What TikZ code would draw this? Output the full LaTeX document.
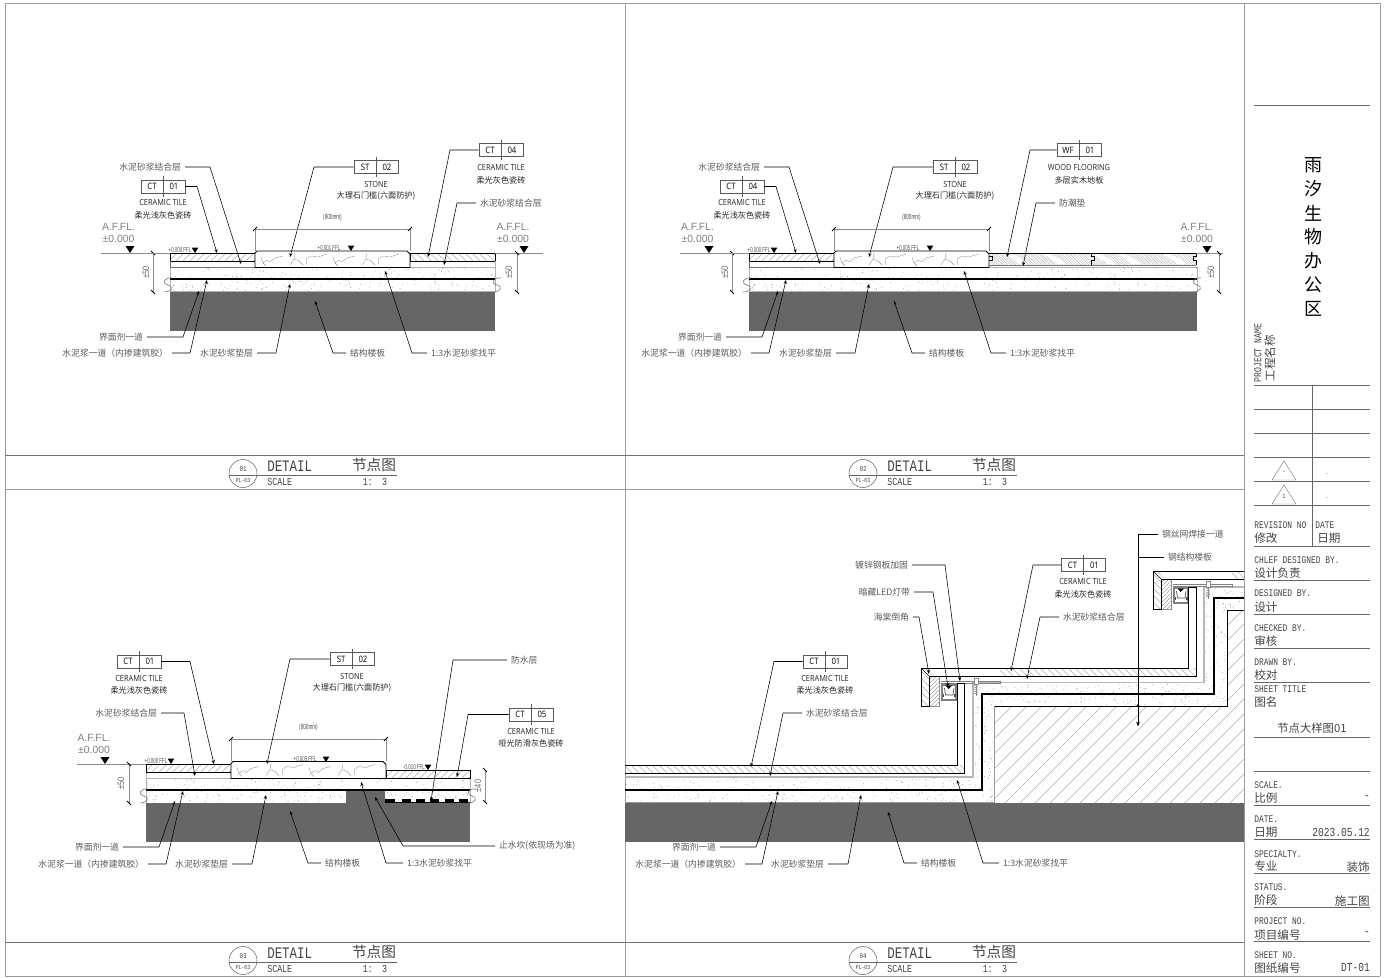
\documentclass[tikz,border=0pt]{standalone}
\usepackage{fontspec}
\usetikzlibrary{arrows.meta}
\setmainfont{Liberation Sans}
\newfontfamily\cjk{Noto Sans CJK SC}
\newfontfamily\romf[FakeStretch=0.78]{Liberation Mono}
\newfontfamily\thinf[FakeStretch=0.62]{Liberation Sans}
\newfontfamily\dimf[FakeStretch=0.8]{Liberation Sans}
\newfontfamily\tagf[FakeStretch=0.88]{Open Sans}
\definecolor{slab}{HTML}{666666}
\definecolor{framec}{HTML}{9A9A9A}
\definecolor{labc}{HTML}{5A5A5A}
\definecolor{hatchc}{HTML}{B0B0B0}
\definecolor{blockc}{HTML}{444444}
\tikzset{
  leader/.style={draw=black,line width=0.42pt,-{Stealth[length=3pt,width=2.4pt]}},
  labelnode/.style={font=\cjk\fontsize{6.6}{7}\selectfont,text=labc,inner sep=0pt,outer sep=0pt},
  notenode/.style={font=\cjk\fontsize{6.1}{7}\selectfont,text=black!85,inner sep=0pt},
  capnode/.style={font=\tagf\fontsize{6.3}{7}\selectfont,text=black!85,inner sep=0pt},
  tagbox/.style={draw=black!65,line width=0.45pt,minimum width=33pt,minimum height=10pt,inner sep=0pt,fill=white},
  tagtext/.style={font=\tagf\fontsize{6.6}{7}\selectfont,text=black,inner sep=0pt},
  gridline/.style={draw=framec,line width=0.75pt},
  heavy/.style={draw=black,line width=1pt},
  outl/.style={draw=black,line width=0.62pt},
  dimline/.style={draw=black!45,line width=0.4pt},
  tick/.style={draw=black,line width=0.7pt},
  levelc/.style={font=\fontsize{7.8}{9}\selectfont,text=black!50,inner sep=0pt},
  fflc/.style={font=\thinf\fontsize{5.3}{6}\selectfont,text=black!70,inner sep=0pt},
  dimt/.style={font=\dimf\fontsize{7}{8}\selectfont,text=black!60,inner sep=0pt},
  blockline/.style={draw=black!60,line width=0.5pt},
  enL/.style={font=\romf\fontsize{7.6}{8}\selectfont,text=blockc,inner sep=0pt,anchor=west},
  cnL/.style={font=\cjk\fontsize{8.7}{9}\selectfont,text=blockc,inner sep=0pt,anchor=west},
  cnR/.style={font=\cjk\fontsize{8.7}{9}\selectfont,text=blockc,inner sep=0pt,anchor=east},
  enR/.style={font=\romf\fontsize{9.2}{10}\selectfont,text=blockc,inner sep=0pt,anchor=east},
}
\newcommand\callE[7]{% name, x, y, text, knee x, tip x, tip y
  \node[labelnode,anchor=east] (#1) at (#2,#3) {#4};
  \coordinate (#1-tip) at (#6,#7);
  \coordinate (#1-knee) at (#5,#3);
  \coordinate (#1-st) at ([xshift=3pt]#1.east);
  \draw[leader] (#1-st) -- (#1-knee) -- (#1-tip);}
\newcommand\callW[7]{%
  \node[labelnode,anchor=west] (#1) at (#2,#3) {#4};
  \coordinate (#1-tip) at (#6,#7);
  \coordinate (#1-knee) at (#5,#3);
  \coordinate (#1-st) at ([xshift=-3pt]#1.west);
  \draw[leader] (#1-st) -- (#1-knee) -- (#1-tip);}
\newcommand\mattag[9]{%
  \node[tagbox] (#1) at (#2,#3) {};
  \draw[draw=black!65,line width=0.45pt] ([yshift=2.4pt]#1.north) -- ([yshift=-2.4pt]#1.south);
  \node[tagtext] (#1-a) at ([xshift=-8.2pt]#1.center) {#4};
  \node[tagtext] (#1-b) at ([xshift=8.2pt]#1.center) {#5};
  \coordinate (#1-tip) at (#8,#9);
  \coordinate (#1-knee) at (#7,#3);
  \draw[leader] (#1.#6) -- (#1-knee) -- (#1-tip);}
\newcommand\hatchR[7]{% clip rectangle x1 y1 x2 y2, spacing, colour, direction(1 for / , -1 for \)
  \begin{scope}
    \clip (#1,#2) rectangle (#3,#4);
    \pgfmathsetmacro\hh{#4-#2}
    \pgfmathsetmacro\xa{#1-\hh-#5}
    \pgfmathsetmacro\xb{\xa+#5}
    \pgfmathsetmacro\xc{#3+\hh}
    \foreach \d in {\xa,\xb,...,\xc}{
      \ifnum#7=1
        \draw[#6,line width=0.3pt] (\d,#4) -- ({\d+\hh},#2);
      \else
        \draw[#6,line width=0.3pt] (\d,#2) -- ({\d+\hh},#4);
      \fi}
  \end{scope}}
\newcommand\speck[6]{% x1 y1 x2 y2 count seed
  \pgfmathsetseed{#6}
  \foreach \i in {1,...,#5}{
    \pgfmathsetmacro\xx{#1+rnd*(#3-#1)}
    \pgfmathsetmacro\yy{#2+rnd*(#4-#2)}
    \fill[black!55] (\xx,\yy) circle (0.26pt);}}
\newcommand\cracks[2]{%
  \begin{scope}[shift={(#1,#2)}]
    \draw[black!40,line width=0.3pt] (0,6) -- (2,12) -- (6,9) -- (9,11) -- (14,7) -- (22,5);
    \draw[black!40,line width=0.3pt] (2,12) -- (5,15);
    \draw[black!40,line width=0.3pt] (34,2) -- (33,8) -- (29,14);
    \draw[black!40,line width=0.3pt] (33,8) -- (38,10) -- (42,14);
    \draw[black!40,line width=0.3pt] (46,14) -- (45,8) -- (50,5) -- (57,6) -- (66,3);
  \end{scope}}
\newcommand\aff[4]{%
  \node[levelc,anchor=center] (#1a) at (#2,{#3-26}) {A.F.FL.};
  \node[levelc,anchor=center] (#1b) at (#2,{#3-14}) {±0.000};
  \fill[black] (#4,#3) -- ({#4-4.5},{#3-7}) -- ({#4+4.5},{#3-7}) -- cycle;}
\newcommand\ffl[5]{%
  \node[fflc] (#1) at (#2,#3) {#4};
  \fill[black] (#5,{#3+3}) -- ({#5-3.3},{#3-2.4}) -- ({#5+3.3},{#3-2.4}) -- cycle;}
\newcommand\vdim[6]{%
  \draw[dimline] (#2,#3) -- (#2,#4);
  \draw[tick] ({#2-2},{#3-2}) -- ({#2+2},{#3+2});
  \draw[tick] ({#2-2},{#4-2}) -- ({#2+2},{#4+2});
  \node[dimt,rotate=90] (#1) at (#6,{(#3+#4)/2}) {#5};}
\newcommand\topdim[5]{%
  \draw[dimline] (#2,#4) -- (#3,#4);
  \draw[dimline] (#2,#4) -- (#2,{#4+22});
  \draw[dimline] (#3,#4) -- (#3,{#4+22});
  \draw[tick] ({#2-2},{#4+2}) -- ({#2+2},{#4-2});
  \draw[tick] ({#3-2},{#4+2}) -- ({#3+2},{#4-2});
  \node[font=\thinf\fontsize{5.6}{6}\selectfont,text=black!70,inner sep=0pt] (#1) at ({(#2+#3)/2},{#4-11}) {#5};}
\newcommand\stone[5]{%
  \fill[white] (#1,#4) -- (#1,{#3+2}) -- ({#1+2},#3) -- ({#2-3},#3) -- (#2,{#3+3}) -- (#2,#4) -- cycle;
  \cracks{#1+6}{#3}
  \cracks{#1+78}{#3}
  \draw[outl] (#1,#4) -- (#1,{#3+2}) -- ({#1+2},#3) -- ({#2-3},#3) -- (#2,{#3+3}) -- (#2,#4) -- cycle;}
\newcommand\brk[2]{%
  \draw[black!55,line width=0.45pt] ({#1+4},{#2-7}) .. controls ({#1-3},{#2-8}) and ({#1-7},{#2-2}) .. (#1,{#2}) .. controls ({#1+6},{#2+1}) and ({#1+4},{#2+7}) .. ({#1-4},{#2+7});}
\newcommand\titlebar[4]{%
\begin{scope}[shift={(#2,#3)}]
  \node[draw=black!60,circle,line width=0.4pt,minimum size=21pt,inner sep=0pt] (#1c) at (243,473.5) {};
  \draw[black!60,line width=0.45pt] (229,475) -- (397,475);
  \node[font=\romf\fontsize{5.6}{6}\selectfont,text=blockc,inner sep=0pt] (#1n) at (243,469) {#4};
  \node[font=\romf\fontsize{4.6}{6}\selectfont,text=blockc,inner sep=0pt] (#1s) at (243,480.5) {PL-03};
  \node[font=\romf\fontsize{12}{13}\selectfont,text=blockc,inner sep=0pt,anchor=west] (#1d) at (267,466) {DETAIL};
  \node[font=\cjk\fontsize{11}{12}\selectfont,text=blockc,inner sep=0pt] (#1t) at (374,465) {节点图};
  \node[font=\romf\fontsize{8}{9}\selectfont,text=blockc,inner sep=0pt,anchor=west] (#1e) at (267,482) {SCALE};
  \node[font=\romf\fontsize{8}{9}\selectfont,text=blockc,inner sep=0pt] (#1r) at (375,482) {1{\cjk\fontsize{7}{8}\selectfont：} 3};
\end{scope}}
\newcommand\basefloor[2]{%
  \fill[slab] (#1,292) rectangle (#2,331);
  \speck{#1}{267.5}{#2}{278}{110}{17}
  \speck{#1}{280.5}{#2}{291}{120}{23}
  \draw[black!30,line width=0.4pt] (#1,267) -- (#2,267);
  \draw[black!30,line width=0.4pt] (#1,267) -- (#1,292);
  \draw[black!30,line width=0.4pt] (#2,267) -- (#2,292);
  \draw[black!30,line width=0.4pt] (#1,291.5) -- (#2,291.5);
  \draw[heavy] (#1,279) -- (#2,279);}
\newcommand\tilebox[4]{%
  \hatchR{#1}{#3}{#2}{#3+8}{7}{hatchc}{#4}
  \draw[outl] (#1,#3) rectangle (#2,{#3+8});}
\newcommand\commonleft[2]{%
  \callE{#1bond}{181}{167}{水泥砂浆结合层}{210}{241}{264}
  \callE{#1iface}{143}{337}{界面剂一道}{183}{199}{291}
  \callE{#1slur}{168}{353}{水泥浆一道（内掺建筑胶）}{190}{207}{280}
  \callE{#1pad}{253}{353}{水泥砂浆垫层}{276}{290}{284}
  \callW{#1str}{350}{353}{结构楼板}{333}{315}{301}
  \callW{#1lev}{431}{353}{1:3水泥砂浆找平}{412}{385}{271}
  \mattag{#1ct}{163}{186.5}{CT}{#2}{east}{197}{217}{253}
  \node[capnode] (#1ctc) at (163,202) {CERAMIC TILE};
  \node[notenode] (#1ctn) at (163,215) {柔光浅灰色瓷砖};
  \mattag{#1st}{376}{167}{ST}{02}{west}{314}{290}{257}
  \node[capnode] (#1stc) at (376,184) {STONE};
  \node[notenode] (#1stn) at (376,196) {大理石门槛(六面防护)};
  \topdim{#1dim}{255}{410}{229}{(800mm)}
  \vdim{#1h}{153}{253}{292}{±50}{146}
  \brk{168}{285}
  \draw[dimline] (101,253) -- (170,253);
}
\newcommand\noseset{%
  \fill[white] (921,668) -- (921,706) -- (939,706) -- (939,676) -- (1000,676) -- (1000,668) -- cycle;
  \hatchR{929}{676}{939}{706}{4}{black!35}{1}
  \draw[black!45,line width=0.5pt] (929,676) rectangle (939,706);
  \hatchR{921}{668}{929}{706}{7}{hatchc}{-1}
  \draw[black!50,line width=0.35pt] (941,681.5) -- (1000,681.5) -- (1000,683.5) -- (941,683.5);
  \draw[black!50,line width=0.8pt,fill=white] (942,685) rectangle (956,700);
  \draw[black!70,line width=0.5pt] (944.5,688) -- (945.5,695) -- (953,695) -- (954,688);
  \fill[black] (945.5,685.5) -- (952,685.5) -- (948.7,689) -- cycle;
  \fill[black!70] (942.5,693.5) rectangle (944,696.5);
  \fill[black!70] (954,693.5) rectangle (955.5,696.5);
  \draw[black!45,line width=0.35pt,fill=white] (974,678) rectangle (978,684);
  \foreach \yy in {685,687,...,693}{\draw[black!45,line width=0.45pt] (974,\yy) -- (978,{\yy+1});}
  \draw[black!45,line width=0.45pt] (976,684) -- (976,696);
  \draw[black,line width=0.5pt] (921,668) -- (929,676);
}
\begin{document}
\begin{tikzpicture}[x=0.75pt,y=-0.75pt]
\useasboundingbox (0,0) rectangle (1389,978);
\fill[white] (0,0) rectangle (1389,978);
% frames
\draw[gridline] (5,976) -- (5,3) -- (1380,3) -- (1380,976);
\draw[gridline] (5,976) -- (1380,976);
\draw[gridline] (625,3) -- (625,976);
\draw[gridline] (1244,3) -- (1244,976);
\draw[gridline] (5,489.5) -- (1244,489.5);
\draw[black!55,line width=0.5pt] (5,455.5) -- (1244,455.5);
\draw[black!55,line width=0.5pt] (5,942.5) -- (1244,942.5);
\titlebar{ta}{0}{0}{01}
\titlebar{tb}{620}{0}{02}
\titlebar{tc}{0}{487}{03}
\titlebar{td}{620}{487}{04}

%% ---------- detail 1
\basefloor{170}{495}
\hatchR{170}{253}{255}{261}{7}{hatchc}{1}
\draw[outl] (170.5,253) rectangle (255,261);
\draw[black!55,line width=0.4pt] (170.5,261) -- (170.5,267) -- (255,267);
\tilebox{410}{495}{253}{-1}
\draw[black!30,line width=0.4pt] (495,261) -- (495,267) -- (410,267);
\stone{255}{410}{251}{267.5}{1}
\brk{497}{285}
\commonleft{a}{01}
\ffl{affl}{180}{250}{+0.000 FFL}{195}
\ffl{afflb}{329}{248}{+0.001 FFL}{351}
\aff{aL}{118.5}{253}{130}
\aff{aR}{513}{253}{524}
\draw[dimline] (495,253) -- (543,253);
\vdim{ahr}{517}{253}{292}{±50}{509}
\mattag{act4}{501}{150}{CT}{04}{west}{450}{428}{257}
\node[capnode] (act4c) at (501,167) {CERAMIC TILE};
\node[notenode] (act4n) at (501,180) {柔光灰色瓷砖};
\callW{abr}{480}{203}{水泥砂浆结合层}{457}{444}{265}

%% ---------- detail 2
\begin{scope}[shift={(579,0)}]
\basefloor{170}{618}
\hatchR{170}{253}{255}{261}{7}{hatchc}{1}
\draw[outl] (170.5,253) rectangle (255,261);
\draw[black!55,line width=0.4pt] (170.5,261) -- (170.5,267) -- (255,267);
% wood floor
\fill[white] (410,253) rectangle (618,265);
\hatchR{411}{253}{617}{265}{2.6}{black!28}{-1}
\foreach \cx in {432,470,520,545,590}{
  \fill[white] (\cx,254) .. controls ({\cx+6},257) and ({\cx+12},258) .. ({\cx+16},264) -- ({\cx+8},264) .. controls ({\cx+4},260) and ({\cx},258) .. ({\cx-6},254) -- cycle;}
\draw[black,line width=0.55pt] (410,253) -- (617,253);
\draw[black!55,line width=0.5pt] (410,265) -- (617,265);
\draw[black,line width=0.45pt] (617,253) -- (617,256) -- (614,256) -- (614,260) -- (617,260) -- (617,265);
\draw[black,line width=0.45pt] (512,253) -- (512,256) -- (515,256) -- (515,260) -- (512,260) -- (512,265);
\draw[black,line width=0.45pt] (410,256) -- (413,256) -- (413,260) -- (410,260);
\stone{255}{410}{251}{267.5}{1}
\brk{618}{285}
\commonleft{b}{04}
\ffl{bffl}{180}{250}{+0.000 FFL}{195}
\ffl{bfflb}{329}{248}{+0.005 FFL}{351}
\aff{bL}{118.5}{253}{130}
\aff{bR}{618}{253}{628}
\draw[dimline] (617,253) -- (644,253);
\vdim{bhr}{640}{253}{292}{±50}{632}
\mattag{bwf}{500}{150}{WF}{01}{west}{451}{428}{257}
\node[capnode] (bwfc) at (500,167) {WOOD FLOORING};
\node[notenode] (bwfn) at (500,180) {多层实木地板};
\callW{bbr}{480}{203}{防潮垫}{457}{444}{266}
\end{scope}

%% ---------- detail 3
\fill[slab] (146,803) rectangle (470,842);
\speck{146}{778.5}{470}{789}{110}{31}
\speck{146}{791.5}{346}{802}{75}{37}
\speck{385}{791.5}{470}{798}{30}{41}
\fill[slab] (346,791) rectangle (385,803);
\foreach \bx/\bw in {385/10,402/9,416/9,430/9,445/9,459/9}{\fill[black] (\bx,799) rectangle ({\bx+\bw},802.5);}
\draw[black,line width=0.4pt] (385,802.5) -- (470,802.5);
\draw[black!30,line width=0.4pt] (146,772) -- (146,803);
\draw[black!30,line width=0.4pt] (470,778) -- (470,803);
\draw[heavy] (146,790) -- (470,790);
\hatchR{146}{764}{231}{772}{7}{hatchc}{1}
\draw[outl] (146.5,764) rectangle (231,772);
\hatchR{386}{770}{470}{778}{7}{hatchc}{1}
\draw[outl] (386,770) rectangle (470,778);
\draw[black!30,line width=0.4pt] (146,778) -- (386,778);
\stone{231}{386}{761.5}{778.5}{1}
\brk{144}{796}
\brk{472}{796}
\draw[dimline] (77,764) -- (146,764);
\aff{cL}{94}{764}{105}
\ffl{cffl}{156}{761}{+0.000 FFL}{171}
\ffl{cfflb}{305}{759}{+0.005 FFL}{326}
\ffl{cfflc}{414}{767}{-0.010 FFL}{428}
\topdim{cdim}{231}{386}{739}{(800mm)}
\vdim{chl}{129}{764}{803}{±50}{121}
\vdim{chr}{485}{770}{802}{±40}{478}
\mattag{cct}{139}{661.5}{CT}{01}{east}{190}{214}{764}
\node[capnode] (cctc) at (139,678) {CERAMIC TILE};
\node[notenode] (cctn) at (139,690) {柔光浅灰色瓷砖};
\callE{cbond}{157}{713}{水泥砂浆结合层}{184}{195}{776}
\mattag{cst}{352}{659}{ST}{02}{west}{290}{267}{764}
\node[capnode] (cstc) at (352,676) {STONE};
\node[notenode] (cstn) at (352,688) {大理石门槛(六面防护)};
\callW{cwp}{511}{660}{防水层}{453}{431}{801}
\mattag{cct5}{531}{714.5}{CT}{05}{west}{468}{457}{777}
\node[capnode] (cct5c) at (531,731) {CERAMIC TILE};
\node[notenode] (cct5n) at (531,743) {哑光防滑灰色瓷砖};
\callW{ckerb}{499}{846}{止水坎(依现场为准)}{403}{375}{797}
\callW{clev}{407}{863}{1:3水泥砂浆找平}{386}{361}{782}
\callW{cstr}{325}{863}{结构楼板}{308}{290}{811}
\callE{cpad}{228}{864}{水泥砂浆垫层}{252}{266}{795}
\callE{cslur}{144}{864}{水泥浆一道（内掺建筑胶）}{166}{183}{791}
\callE{ciface}{119}{847}{界面剂一道}{159}{175}{801}

%% ---------- detail 4
\fill[slab] (625,803) rectangle (1244,842);
\begin{scope}
  \clip (995,706) -- (1227,706) -- (1227,610) -- (1244,610) -- (1244,803) -- (995,803) -- cycle;
  \foreach \d in {900,915,...,1380}{\draw[hatchc,line width=0.35pt] (\d,803) -- ({\d+200},603);}
\end{scope}
\speck{625}{778}{972}{789}{110}{51}
\speck{625}{791}{993}{802}{120}{57}
\speck{974}{683}{981}{790}{25}{61}
\speck{983}{696}{993}{802}{45}{67}
\speck{974}{684}{1214}{693}{80}{71}
\speck{983}{695}{1226}{705}{90}{73}
\speck{1205}{590}{1213}{694}{22}{79}
\speck{1215}{600}{1226}{706}{38}{83}
\speck{1205}{588}{1244}{597}{18}{89}
\speck{1215}{599}{1244}{609}{16}{97}
\draw[black!28,line width=0.9pt] (625,777) -- (973,777) -- (973,682.5) -- (1204,682.5) -- (1204,587) -- (1244,587);
\draw[black!40,line width=1pt] (625,802.5) -- (994.5,802.5) -- (994.5,706);
\draw[heavy] (625,790) -- (982,790) -- (982,694) -- (1214,694) -- (1214,598) -- (1244,598);
\draw[outl] (994.5,706) -- (1227,706) -- (1227,610) -- (1244,610);
% tile runs
\hatchR{625}{765}{964}{773}{7}{hatchc}{-1}
\hatchR{929}{668}{1196}{676}{7}{hatchc}{-1}
\hatchR{1161}{571}{1244}{579}{7}{hatchc}{-1}
\noseset
\begin{scope}[shift={(232,-97)}]\noseset\end{scope}
\draw[outl] (625,765) -- (957,765) -- (957,683) -- (964,683) -- (964,773) -- (625,773);
\draw[outl] (929,676) -- (929,706) -- (921,706) -- (921,668) -- (1188,668) -- (1188,587) -- (1196,587) -- (1196,676) -- cycle;
\draw[outl] (1244,571) -- (1153,571) -- (1153,609) -- (1161,609) -- (1161,579) -- (1244,579);
% labels
\callW{dmesh}{1162}{534}{钢丝网焊接一道}{1138}{1138}{726}
\callW{dsteel}{1168}{557}{钢结构楼板}{1138}{1138}{726}
\fill[black] (1138,705.5) circle (1pt);
\callE{dgal}{908}{565}{镀锌钢板加固}{945}{960}{681}
\callE{dled}{910}{592}{暗藏LED灯带}{933}{948}{687}
\callE{dcham}{909}{617}{海棠倒角}{919}{929}{674}
\mattag{dct}{1083.5}{565}{CT}{01}{west}{1033}{1011}{671}
\node[capnode] (dctc) at (1083,581) {CERAMIC TILE};
\node[notenode] (dctn) at (1083,594) {柔光浅灰色瓷砖};
\callW{dbr}{1063}{617}{水泥砂浆结合层}{1040}{1027}{679}
\mattag{dcl}{825}{661.5}{CT}{01}{west}{774}{751}{767}
\node[capnode] (dclc) at (825,678) {CERAMIC TILE};
\node[notenode] (dcln) at (825,690) {柔光浅灰色瓷砖};
\callW{dbl}{806}{713}{水泥砂浆结合层}{783}{770}{776}
\callE{difc}{716}{847}{界面剂一道}{756}{772}{801}
\callE{dslur}{741}{864}{水泥浆一道（内掺建筑胶）}{762}{778}{791}
\callE{dpad}{824}{864}{水泥砂浆垫层}{848}{861}{795}
\callW{dstr}{921}{863}{结构楼板}{904}{888}{812}
\callW{dlev}{1003}{863}{1:3水泥砂浆找平}{983}{957}{780}

%% ---------- title block
\draw[blockline] (1254,105.5) -- (1370,105.5);
\foreach \ch [count=\n from 0] in {雨,汐,生,物,办,公,区}{
  \node[font=\cjk\fontsize{13.5}{14}\selectfont,text=black,inner sep=0pt] (pn\n) at (1313,{165+24*\n}) {\ch};}
\node[font=\romf\fontsize{7.9}{8}\selectfont,text=blockc,rotate=90,inner sep=0pt] (pnen) at (1258,353) {PROJECT NAME};
\node[font=\cjk\fontsize{8.7}{9}\selectfont,text=blockc,rotate=90,inner sep=0pt] (pncn) at (1270,358) {工程名称};
\foreach \yy in {385,409,433,457,481,505}{\draw[blockline] (1254,\yy) -- (1370,\yy);}
\draw[blockline] (1312,385) -- (1312,546);
\foreach \yy/\t in {481/-,505/1}{
  \draw[black!50,line width=0.35pt] (1284,{\yy-20}) -- (1272,{\yy-1}) -- (1296,{\yy-1}) -- cycle;
  \node[font=\romf\fontsize{5}{6}\selectfont,text=blockc,inner sep=0pt] at (1284,{\yy-9}) {\t};
  \node[font=\romf\fontsize{5}{6}\selectfont,text=blockc,inner sep=0pt] at (1327,{\yy-7}) {.};}
\node[enL] (r1) at (1254,525) {REVISION NO};
\node[enL] (r2) at (1315,525) {DATE};
\node[cnL] (r3) at (1254,538.5) {修改};
\node[cnL] (r4) at (1317,538.5) {日期};
\draw[blockline] (1254,546) -- (1370,546);
\node[enL] (s1) at (1254,560) {CHLEF DESIGNED BY.};
\node[cnL] (s2) at (1254,573) {设计负责};
\draw[blockline] (1254,580) -- (1370,580);
\node[enL] (s3) at (1254,593.5) {DESIGNED BY.};
\node[cnL] (s4) at (1254,607) {设计};
\draw[blockline] (1254,614) -- (1370,614);
\node[enL] (s5) at (1254,628) {CHECKED BY.};
\node[cnL] (s6) at (1254,641) {审核};
\draw[blockline] (1254,648) -- (1370,648);
\node[enL] (s7) at (1254,662) {DRAWN BY.};
\node[cnL] (s8) at (1254,675) {校对};
\draw[blockline] (1254,682) -- (1370,682);
\node[enL] (s9) at (1254,689.5) {SHEET TITLE};
\node[cnL] (s10) at (1254,702) {图名};
\node[font=\cjk\fontsize{8.5}{9}\selectfont,text=blockc,inner sep=0pt] (s11) at (1312,728) {节点大样图01};
\draw[blockline] (1254,737) -- (1370,737);
\draw[blockline] (1254,771) -- (1370,771);
\node[enL] (s12) at (1254,785) {SCALE.};
\node[cnL] (s13) at (1254,798) {比例};
\node[enR] (s14) at (1370,798) {-};
\draw[blockline] (1254,805) -- (1370,805);
\node[enL] (s15) at (1254,819) {DATE.};
\node[cnL] (s16) at (1254,832) {日期};
\node[enR] (s17) at (1370,832) {2023.05.12};
\draw[blockline] (1254,839) -- (1370,839);
\node[enL] (s18) at (1254,854) {SPECIALTY.};
\node[cnL] (s19) at (1254,866) {专业};
\node[cnR] (s20) at (1370,867) {装饰};
\draw[blockline] (1254,873) -- (1370,873);
\node[enL] (s21) at (1254,887) {STATUS.};
\node[cnL] (s22) at (1254,900) {阶段};
\node[cnR] (s23) at (1370,901) {施工图};
\draw[blockline] (1254,907) -- (1370,907);
\node[enL] (s24) at (1254,921) {PROJECT NO.};
\node[cnL] (s25) at (1254,935) {项目编号};
\node[enR] (s26) at (1370,934) {-};
\draw[blockline] (1254,941) -- (1370,941);
\node[enL] (s27) at (1254,955) {SHEET NO.};
\node[cnL] (s28) at (1254,968) {图纸编号};
\node[enR] (s29) at (1370,967) {DT-01};
\end{tikzpicture}
\end{document}
